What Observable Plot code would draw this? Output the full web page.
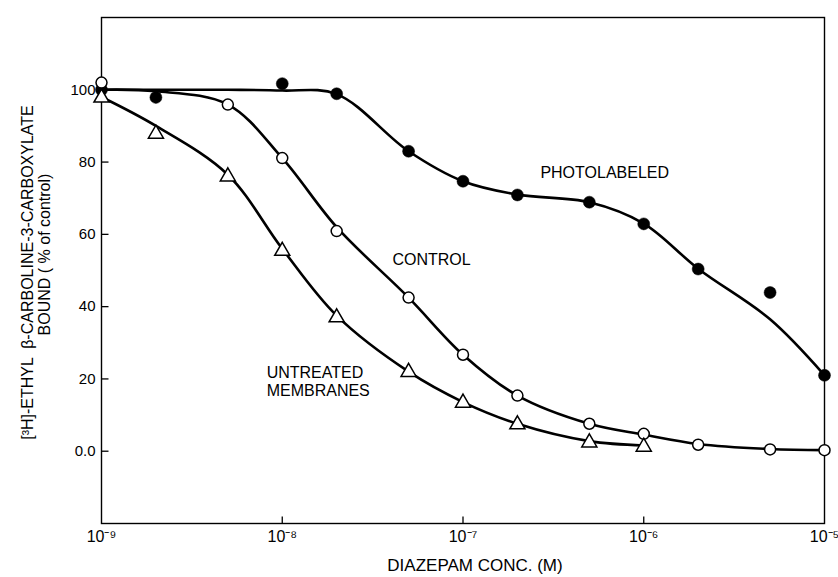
<!DOCTYPE html>
<html>
<head>
<meta charset="utf-8">
<script src="https://cdn.jsdelivr.net/npm/d3@7"></script>
<script src="https://cdn.jsdelivr.net/npm/@observablehq/plot@0.6"></script>
<style>
  body { margin: 0; background: #fff; }
  #chart svg { display: block; }
</style>
</head>
<body>
<div id="chart"></div>
<script>
// ---- tick values & labels ----
const xTicks = [1e-9, 1e-8, 1e-7, 1e-6, 1e-5];
const xTickLabels = ["10⁻⁹", "10⁻⁸", "10⁻⁷", "10⁻⁶", "10⁻⁵"];
const yTicks = [0, 20, 40, 60, 80, 100];
const yTickLabels = ["0.0", "20", "40", "60", "80", "100"];

// ---- PHOTOLABELED (filled circles) ----
const photoConc   = [1e-9, 2e-9, 1e-8, 2e-8, 5e-8, 1e-7, 2e-7, 5e-7, 1e-6, 2e-6, 5e-6, 1e-5];
const photoValues = [100, 97.9, 101.7, 98.9, 83.0, 74.7, 70.9, 68.9, 62.9, 50.4, 43.9, 21.0];
// drawn (fitted) curve
const photoFitConc   = [1e-9, 2e-9, 5e-9, 1e-8, 2e-8, 5e-8, 1e-7, 2e-7, 5e-7, 1e-6, 2e-6, 5e-6, 1e-5];
const photoFitValues = [100, 100, 100, 99.8, 98.8, 83.0, 74.7, 71.0, 68.9, 63.0, 50.5, 36.5, 21.0];

// ---- CONTROL (open circles) ----
const controlConc   = [1e-9, 5e-9, 1e-8, 2e-8, 5e-8, 1e-7, 2e-7, 5e-7, 1e-6, 2e-6, 5e-6, 1e-5];
const controlValues = [102, 95.9, 81.1, 60.9, 42.5, 26.7, 15.4, 7.6, 4.8, 1.8, 0.5, 0.3];
const controlFitConc   = [1e-9, 2e-9, 5e-9, 1e-8, 2e-8, 5e-8, 1e-7, 2e-7, 5e-7, 1e-6, 2e-6, 5e-6, 1e-5];
const controlFitValues = [100, 99.6, 95.9, 81.1, 62.0, 42.5, 26.7, 15.4, 7.6, 4.6, 2.0, 0.6, 0.3];

// ---- UNTREATED MEMBRANES (open triangles) ----
const untreatedConc   = [1e-9, 2e-9, 5e-9, 1e-8, 2e-8, 5e-8, 1e-7, 2e-7, 5e-7, 1e-6];
const untreatedValues = [97.8, 87.8, 76.0, 55.4, 37.0, 21.9, 13.4, 7.4, 2.4, 1.2];
const untreatedFitConc   = [1e-9, 2e-9, 5e-9, 1e-8, 2e-8, 5e-8, 1e-7, 2e-7, 5e-7, 1e-6];
const untreatedFitValues = [98.0, 90.0, 76.5, 56.0, 37.5, 22.0, 13.6, 7.6, 2.8, 1.6];

// ---- annotations ----
const seriesNames = ["PHOTOLABELED", "CONTROL", "UNTREATED\nMEMBRANES"];
const seriesNameConc = [2.68e-7, 4.07e-8, 8.2e-9];
const seriesNameValue = [77.2, 53.2, 19.4];

const yTitleLines = ["[³H]-ETHYL  β-CARBOLINE-3-CARBOXYLATE", "BOUND ( % of control)"];
const xTitle = "DIAZEPAM CONC. (M)";

const toRows = (xs, ys) => xs.map((x, i) => ({x, y: ys[i]}));
const photo = toRows(photoConc, photoValues);
const photoFit = toRows(photoFitConc, photoFitValues);
const control = toRows(controlConc, controlValues);
const controlFit = toRows(controlFitConc, controlFitValues);
const untreated = toRows(untreatedConc, untreatedValues);
const untreatedFit = toRows(untreatedFitConc, untreatedFitValues);
const notes = seriesNames.map((t, i) => ({t, x: seriesNameConc[i], y: seriesNameValue[i]}));

const font = "'Liberation Sans', Arial, Helvetica, sans-serif";

// short inward tick shapes
const tickUp = {draw(ctx) { ctx.moveTo(0, 0); ctx.lineTo(0, -7); }};
const tickRight = {draw(ctx) { ctx.moveTo(0, 0); ctx.lineTo(7, 0); }};

const chart = Plot.plot({
  width: 838,
  height: 577,
  marginLeft: 101,
  marginRight: 14,
  marginTop: 17,
  marginBottom: 54,
  style: {fontFamily: font, fontSize: "15px", color: "#000", background: "#fff"},
  x: {type: "log", domain: [1e-9, 1e-5]},
  y: {domain: [-20, 120]},
  marks: [
    // axes: labels only
    Plot.axisX({ticks: xTicks, tickSize: 0, tickPadding: 7, fontSize: 16,
                tickFormat: d => xTickLabels[xTicks.indexOf(d)], label: null}),
    Plot.axisY({ticks: yTicks, tickSize: 0, tickPadding: 6, fontSize: 15,
                tickFormat: d => yTickLabels[yTicks.indexOf(d)], label: null}),
    // inward ticks
    Plot.dot(xTicks.slice(1, -1), {x: d => d, frameAnchor: "bottom", symbol: tickUp, fill: "none", stroke: "#000", strokeWidth: 1.3}),
    Plot.dot(yTicks, {y: d => d, frameAnchor: "left", symbol: tickRight, fill: "none", stroke: "#000", strokeWidth: 1.3}),
    Plot.frame({stroke: "#000", strokeWidth: 1.4}),
    // fitted curves
    Plot.line(photoFit, {x: "x", y: "y", curve: "catmull-rom", stroke: "#000", strokeWidth: 2.6}),
    Plot.line(controlFit, {x: "x", y: "y", curve: "catmull-rom", stroke: "#000", strokeWidth: 2.6}),
    Plot.line(untreatedFit, {x: "x", y: "y", curve: "catmull-rom", stroke: "#000", strokeWidth: 2.6}),
    // markers
    Plot.dot(photo, {x: "x", y: "y", r: 6, fill: "#000", stroke: "#000", strokeWidth: 0.5}),
    Plot.dot(control, {x: "x", y: "y", r: 5.5, fill: "#fff", stroke: "#000", strokeWidth: 1.5}),
    Plot.dot(untreated, {x: "x", y: "y", symbol: "triangle", r: 5.6, fill: "#fff", stroke: "#000", strokeWidth: 1.5}),
    // series annotations
    Plot.text(notes, {x: "x", y: "y", text: "t", textAnchor: "start", fontSize: 16, lineHeight: 1.1, fill: "#000"}),
    // axis titles
    Plot.text([xTitle], {frameAnchor: "bottom", text: d => d, dy: 47, dx: 12, fontSize: 17, fill: "#000"}),
    Plot.text([yTitleLines[0]], {frameAnchor: "left", textAnchor: "middle", text: d => d, rotate: -90, dx: -74, dy: 2, fontSize: 16, fill: "#000"}),
    Plot.text([yTitleLines[1]], {frameAnchor: "left", textAnchor: "middle", text: d => d, rotate: -90, dx: -57, dy: -16, fontSize: 16, fill: "#000"})
  ]
});

document.getElementById("chart").appendChild(chart);
</script>
</body>
</html>
